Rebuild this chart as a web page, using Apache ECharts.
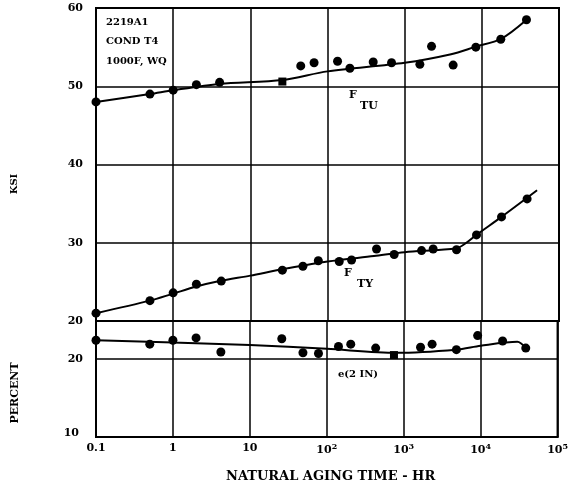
<!DOCTYPE html>
<html>
<head>
<meta charset="utf-8">
<script src="https://cdn.jsdelivr.net/npm/echarts@6/dist/echarts.min.js"></script>
<style>
  html, body { margin: 0; padding: 0; background: #fff; }
  #echarts { width: 571px; height: 489px; }
</style>
</head>
<body>
<div id="echarts"></div>
<script>
// values (x = hours, log scale)
var ftuX = [0.1, 0.5, 1, 2, 4, 45, 67, 135, 195, 391, 676, 1574, 2230, 4250, 8360, 17600, 37900];
var ftuY = [48.0, 49.0, 49.5, 50.2, 50.5, 52.6, 53.0, 53.2, 52.3, 53.1, 53.0, 52.8, 55.1, 52.7, 55.0, 56.0, 58.5];
var ftuSquare = [[26, 50.6]];
var ftuFitX = [0.1, 0.5, 1, 4, 26, 100, 1000, 4000, 8000, 18000, 38000];
var ftuFitY = [48.0, 49.0, 49.5, 50.3, 50.8, 51.9, 53.0, 54.1, 55.0, 56.1, 58.5];

var ftyX = [0.1, 0.5, 1, 2, 4.2, 26, 48, 76, 142, 205, 432, 731, 1655, 2340, 4700, 8530, 18000, 38600];
var ftyY = [21.0, 22.6, 23.6, 24.7, 25.1, 26.5, 27.0, 27.7, 27.6, 27.8, 29.2, 28.5, 29.0, 29.2, 29.1, 31.0, 33.3, 35.6];
var ftyFitX = [0.1, 0.5, 1, 2, 4, 10, 26, 100, 400, 1000, 4700, 6300, 8500, 18000, 52000];
var ftyFitY = [21.0, 22.6, 23.5, 24.4, 25.1, 25.8, 26.6, 27.6, 28.3, 28.8, 29.3, 30.0, 31.0, 33.3, 36.7];

var elX = [0.1, 0.5, 1, 2, 4.2, 26, 49, 78, 142, 205, 432, 1655, 2340, 4840, 9140, 19300, 38600];
var elY = [22.4, 21.9, 22.4, 22.7, 20.9, 22.6, 20.8, 20.7, 21.6, 21.9, 21.4, 21.5, 21.9, 21.2, 23.0, 22.3, 21.4];
var elSquare = [[747, 20.5]];
var elFitX = [0.1, 1, 10, 100, 800, 4840, 10000, 30000, 38600];
var elFitY = [22.4, 22.1, 21.8, 21.3, 20.8, 21.2, 21.7, 22.2, 21.4];

var ksiTicks = [20, 30, 40, 50, 60];
var pctTicks = [10, 20];

function pairs(xs, ys) {
    return xs.map(function (x, i) { return [x, ys[i]]; });
}

var FONT = 'DejaVu Serif';
var myEChart = echarts.init(document.getElementById('echarts'));

var gridLine = { show: true, lineStyle: { color: '#000', width: 1.5, type: 'solid' } };
var edge = { show: true, lineStyle: { color: '#000', width: 2 } };

var xCommon = {
    type: 'log', logBase: 10, min: 0.1, max: 100000, splitNumber: 6,
    axisLine: edge, axisTick: { show: false }, splitLine: gridLine
};

function dots(data, grid, sym) {
    return {
        type: 'scatter', xAxisIndex: grid, yAxisIndex: grid, data: data,
        symbol: sym || 'circle', symbolSize: sym ? 8 : 9,
        itemStyle: { color: '#000', opacity: 1 }, silent: true, z: 4
    };
}
function fit(data, grid) {
    return {
        type: 'line', xAxisIndex: grid, yAxisIndex: grid, data: data,
        smooth: 0.3, showSymbol: false, silent: true, z: 3,
        lineStyle: { color: '#000', width: 2 }
    };
}

var txt = { fontFamily: FONT, fontWeight: 'bold', fill: '#000' };
function label(text, x, y, size) {
    var s = Object.assign({ text: text, fontSize: size }, txt);
    return { type: 'text', left: x, top: y, style: s, z: 10 };
}
function vlabel(text, cx, cy, size) {
    var s = Object.assign({ text: text, fontSize: size, align: 'center', verticalAlign: 'middle' }, txt);
    return { type: 'text', x: cx, y: cy, rotation: Math.PI / 2, style: s, z: 10 };
}

var chartOption = {
    backgroundColor: '#fff',
    animation: false,
    grid: [
        { left: 96, top: 8, width: 463, height: 313, show: true, borderColor: '#000', borderWidth: 2 },
        { left: 96, top: 321, width: 463, height: 116, show: true, borderColor: '#000', borderWidth: 2 }
    ],
    xAxis: [
        Object.assign({ gridIndex: 0, axisLabel: { show: false } }, xCommon),
        Object.assign({
            gridIndex: 1,
            axisLabel: {
                margin: 6, color: '#000', fontFamily: FONT, fontWeight: 'bold', fontSize: 11,
                formatter: function (v) {
                    var p = Math.round(Math.log10(v));
                    if (p < 0) return '0.1';
                    if (p < 2) return String(Math.pow(10, p));
                    return '10{s|' + p + '}';
                },
                rich: { s: { fontFamily: FONT, fontWeight: 'bold', fontSize: 8, padding: [0, 0, 7, 0], color: '#000' } }
            }
        }, xCommon)
    ],
    yAxis: [
        {
            type: 'value', gridIndex: 0, min: 20, max: 60, interval: 10,
            axisLine: edge, axisTick: { show: false }, splitLine: gridLine,
            axisLabel: {
                margin: 13, color: '#000', fontFamily: FONT, fontWeight: 'bold', fontSize: 11,
                formatter: function (v) { return ksiTicks.indexOf(v) >= 0 ? String(v) : ''; }
            }
        },
        {
            type: 'value', gridIndex: 1, min: 10, max: 24.87, interval: 10,
            axisLine: edge, axisTick: { show: false }, splitLine: gridLine,
            axisLabel: {
                margin: 13, color: '#000', fontFamily: FONT, fontWeight: 'bold', fontSize: 11,
                showMaxLabel: false,
                formatter: function (v) {
                    if (v === 10) return '{lo|10}';
                    return pctTicks.indexOf(v) >= 0 ? String(v) : '';
                },
                rich: { lo: { fontFamily: FONT, fontWeight: 'bold', fontSize: 11, color: '#000', padding: [0, 4, 8, 0] } }
            }
        }
    ],
    series: [
        fit(pairs(ftuFitX, ftuFitY), 0),
        dots(pairs(ftuX, ftuY), 0),
        dots(ftuSquare, 0, 'rect'),
        fit(pairs(ftyFitX, ftyFitY), 0),
        dots(pairs(ftyX, ftyY), 0),
        fit(pairs(elFitX, elFitY), 1),
        dots(pairs(elX, elY), 1),
        dots(elSquare, 1, 'rect')
    ],
    graphic: [
        label('2219A1', 106, 17, 10),
        label('COND T4', 106, 36, 10),
        label('1000F, WQ', 106, 56, 10),
        label('F', 349, 90, 11),
        label('TU', 360, 101, 11),
        label('F', 344, 268, 11),
        label('TY', 357, 279, 11),
        label('e(2 IN)', 338, 369, 10),
        vlabel('KSI', 14, 184, 10),
        vlabel('PERCENT', 15, 393, 11),
        label('NATURAL AGING TIME - HR', 226, 470, 13)
    ]
};

myEChart.setOption(chartOption);
</script>
</body>
</html>
